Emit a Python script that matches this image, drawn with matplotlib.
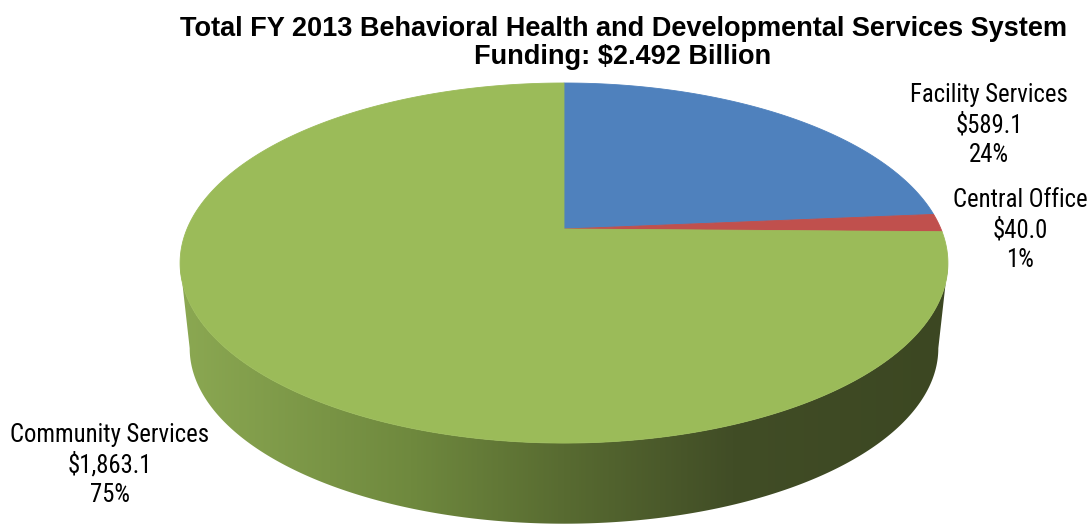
import numpy as np
import matplotlib
matplotlib.use("Agg")
import matplotlib.pyplot as plt
from matplotlib import font_manager
from matplotlib.patches import Polygon
from matplotlib.colors import LinearSegmentedColormap

# FY 2013 funding by area ($ millions)
categories = ["Facility Services", "Central Office", "Community Services"]
amounts = [589.1, 40.0, 1863.1]
amount_labels = ["$589.1", "$40.0", "$1,863.1"]
pct_labels = ["24%", "1%", "75%"]
slice_colors = ["#4f81bd", "#c0504d", "#9bbb59"]

title = ("Total FY 2013 Behavioral Health and Developmental Services System\n"
         "Funding: $2.492 Billion")

W, H = 1090, 526
fig = plt.figure(figsize=(W / 100, H / 100), dpi=100)
ax = fig.add_axes([0, 0, 1, 1])
ax.set_xlim(0, W)
ax.set_ylim(H, 0)
ax.axis("off")

# Tilted disc: perspective mapping of the unit circle onto the page
CX, CY = 564, 229          # projected pie centre
RX, RY, K = 377, 173.6, 0.189
DEPTH, BOTTOM_SCALE = 86, 0.975


def project(phi, scale=1.0, drop=0.0):
    """phi measured clockwise from 12 o'clock."""
    u = np.sin(phi)
    v = -np.cos(phi)
    w = 1 - K * v
    return CX + scale * RX * u / w, CY + drop + scale * RY * v / w


# ---- side wall (front half only) with a horizontal shading gradient
phi_r = np.arccos(-K)
phi_l = 2 * np.pi - phi_r
arc = np.linspace(phi_r, phi_l, 400)
tx, ty = project(arc)
bx, by = project(arc[::-1], BOTTOM_SCALE, DEPTH)
wall_xy = np.column_stack([np.r_[tx, bx], np.r_[ty, by]])
wall = Polygon(wall_xy, closed=True, facecolor="none", edgecolor="none")
ax.add_patch(wall)

x_left, x_right = wall_xy[:, 0].min(), wall_xy[:, 0].max()
wall_cmap = LinearSegmentedColormap.from_list(
    "wall",
    [(0.00, "#8ba852"), (0.30, "#6f893e"), (0.50, "#586b31"),
     (0.72, "#414d26"), (1.00, "#3c4722")])
grad = np.linspace(0, 1, 512)[None, :]
im = ax.imshow(grad, cmap=wall_cmap, aspect="auto", interpolation="bilinear",
               extent=(x_left, x_right, wall_xy[:, 1].max() + 2,
                       wall_xy[:, 1].min() - 2), zorder=1)
im.set_clip_path(wall)

# ---- top face slices, starting at 12 o'clock, clockwise
total = float(np.sum(amounts))
start = 0.0
for value, color in zip(amounts, slice_colors):
    span = 2 * np.pi * value / total
    ang = np.linspace(start, start + span, max(int(span * 120), 4))
    px, py = project(ang)
    poly = np.column_stack([np.r_[CX, px], np.r_[CY, py]])
    ax.add_patch(Polygon(poly, closed=True, facecolor=color,
                         edgecolor=color, linewidth=0.6, zorder=2))
    start += span
ax.set_xlim(0, W)
ax.set_ylim(H, 0)

# ---- labels: prefer a condensed sans face if one is installed
installed = {f.name for f in font_manager.fontManager.ttflist}
narrow = [n for n in ("Liberation Sans Narrow", "Arial Narrow",
                      "Roboto Condensed", "Open Sans Condensed")
          if n in installed]
if narrow:
    label_font, label_size, label_ls = [narrow[0], "DejaVu Sans"], 17.8, 1.28
else:
    label_font, label_size, label_ls = ["Liberation Sans", "DejaVu Sans"], 16, 1.25

label_pos = [(989, 125), (1020, 230), (110, 465)]
for name, amt, pct, (lx, ly) in zip(categories, amount_labels, pct_labels,
                                    label_pos):
    ax.text(lx, ly, f"{name}\n{amt}\n{pct}", ha="center", va="center",
            fontsize=label_size, family=label_font, linespacing=label_ls,
            zorder=3)

ax.text(623, 43, title, ha="center", va="center", fontsize=19.5,
        fontweight="bold", family=["Liberation Sans", "DejaVu Sans"],
        linespacing=1.05, zorder=3)

fig.savefig("out.png", dpi=100)
